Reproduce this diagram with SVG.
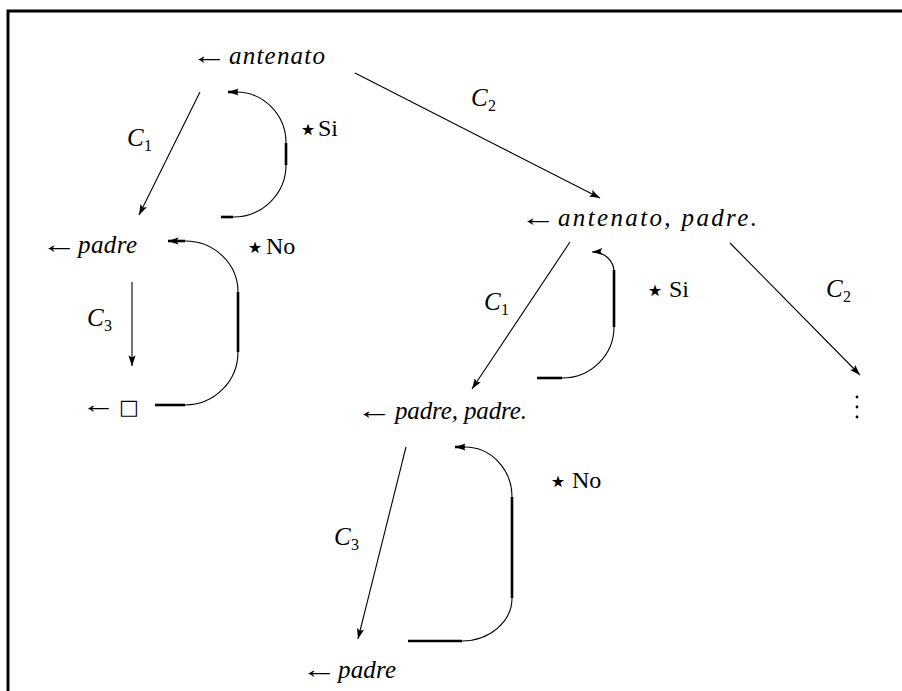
<svg xmlns="http://www.w3.org/2000/svg" width="902" height="691" viewBox="0 0 902 691">
<defs>
<marker id="ah" markerUnits="userSpaceOnUse" viewBox="-11 -5 12 10" refX="0" refY="0" markerWidth="12" markerHeight="10" orient="auto">
<path d="M0,0 L-10.5,-3.6 L-8.5,0 L-10.5,3.6 Z" fill="#000"/>
</marker>
<style>
text{font-family:"Liberation Serif","DejaVu Serif",serif;font-size:24px;fill:#000}
.it{font-style:italic;font-size:25px}
.sub{font-size:16px}
.arr{font-family:"Liberation Serif","DejaVu Serif",serif;font-size:25px}
.sym{font-family:"DejaVu Sans","Liberation Sans",sans-serif;font-size:21px}
.star{font-family:"DejaVu Sans","Liberation Sans",sans-serif;font-size:32px}
.conn{fill:none;stroke:#000;stroke-width:1.1}
.thick{fill:none;stroke:#000;stroke-width:2.6}
</style>
</defs>
<rect x="0" y="0" width="902" height="691" fill="#fff"/>
<path d="M8,700 L8,11 L910,11" fill="none" stroke="#000" stroke-width="3"/>

<g id="connectors">
<line class="conn" x1="200" y1="92" x2="139" y2="215" marker-end="url(#ah)"/>
<line class="conn" x1="355" y1="73" x2="600" y2="198" marker-end="url(#ah)"/>
<line class="conn" x1="132" y1="282" x2="132" y2="366" marker-end="url(#ah)"/>
<line class="conn" x1="570" y1="242" x2="472" y2="389" marker-end="url(#ah)"/>
<line class="conn" x1="730" y1="243" x2="860" y2="375" marker-end="url(#ah)"/>
<line class="conn" x1="406" y1="447" x2="358" y2="639" marker-end="url(#ah)"/>
<g id="backSi1">
<path class="conn" d="M286,143 A50,51 0 0 0 236,92" />
<path class="thick" d="M238,92 L228,92" marker-end="url(#ah)"/>
<line class="thick" x1="286" y1="143" x2="286" y2="165"/>
<path class="conn" d="M286,165 A53,52 0 0 1 233,217"/>
<line class="thick" x1="233" y1="217" x2="221" y2="217"/>
</g>
<g id="backNo1">
<path class="thick" d="M185,241 L168,241" marker-end="url(#ah)"/>
<path class="conn" d="M238,292 A53,51 0 0 0 185,241"/>
<line class="thick" x1="238" y1="292" x2="238" y2="352"/>
<path class="conn" d="M238,352 A53,53 0 0 1 185,405"/>
<line class="thick" x1="185" y1="405" x2="155" y2="405"/>
</g>
<g id="backSi2">
<path class="conn" d="M614,272 A21,20 0 0 0 592,252" marker-end="url(#ah)"/>
<line class="thick" x1="614" y1="270" x2="614" y2="327"/>
<path class="conn" d="M614,327 A52,51 0 0 1 562,378"/>
<line class="thick" x1="562" y1="378" x2="537" y2="378"/>
</g>
<g id="backNo2">
<path class="thick" d="M465,447 L455,447" marker-end="url(#ah)"/>
<path class="conn" d="M512,497 A47,50 0 0 0 465,447"/>
<line class="thick" x1="512" y1="497" x2="512" y2="598"/>
<path class="conn" d="M512,598 A50,43 0 0 1 462,641"/>
<line class="thick" x1="462" y1="641" x2="408" y2="641"/>
</g>
</g>

<g id="n-antenato">
<text class="arr" transform="translate(191,64) scale(1.45,1)">←</text>
<text class="it" x="229" y="64" textLength="96" lengthAdjust="spacing">antenato</text>
</g>
<g id="n-padre1">
<text class="arr" transform="translate(41,253) scale(1.45,1)">←</text>
<text class="it" x="78" y="253" textLength="59" lengthAdjust="spacing">padre</text>
</g>
<g id="n-empty">
<text class="arr" transform="translate(81,413) scale(1.4,1)">←</text>
<text class="sym" x="119" y="414">□</text>
</g>
<g id="n-antenato-padre">
<text class="arr" transform="translate(520,226) scale(1.45,1)">←</text>
<text class="it" x="558" y="226" textLength="199" lengthAdjust="spacing">antenato, padre.</text>
</g>
<g id="n-dots">
<circle cx="857" cy="397" r="1.4"/>
<circle cx="857" cy="407" r="1.4"/>
<circle cx="857" cy="417" r="1.4"/>
</g>
<g id="n-padre-padre">
<text class="arr" transform="translate(356,419) scale(1.45,1)">←</text>
<text class="it" x="395" y="419" textLength="132" lengthAdjust="spacing">padre, padre.</text>
</g>
<g id="n-padre2">
<text class="arr" transform="translate(301,678) scale(1.45,1)">←</text>
<text class="it" x="338" y="678" textLength="58" lengthAdjust="spacing">padre</text>
</g>

<g id="labels">
<text class="it" x="127" y="146">C</text><text class="sub" x="144" y="151">1</text>
<text class="it" x="471" y="106">C</text><text class="sub" x="488" y="111">2</text>
<text class="it" x="87" y="326">C</text><text class="sub" x="104" y="331">3</text>
<text class="it" x="484" y="310">C</text><text class="sub" x="501" y="315">1</text>
<text class="it" x="826" y="297">C</text><text class="sub" x="843" y="302">2</text>
<text class="it" x="334" y="545">C</text><text class="sub" x="351" y="550">3</text>
<text class="star" x="298" y="140">⋆</text><text x="318" y="136">Si</text>
<text class="star" x="245" y="258">⋆</text><text x="266" y="254">No</text>
<text class="star" x="645" y="301">⋆</text><text x="669" y="297">Si</text>
<text class="star" x="548" y="492">⋆</text><text x="572" y="488">No</text>
</g>
</svg>
